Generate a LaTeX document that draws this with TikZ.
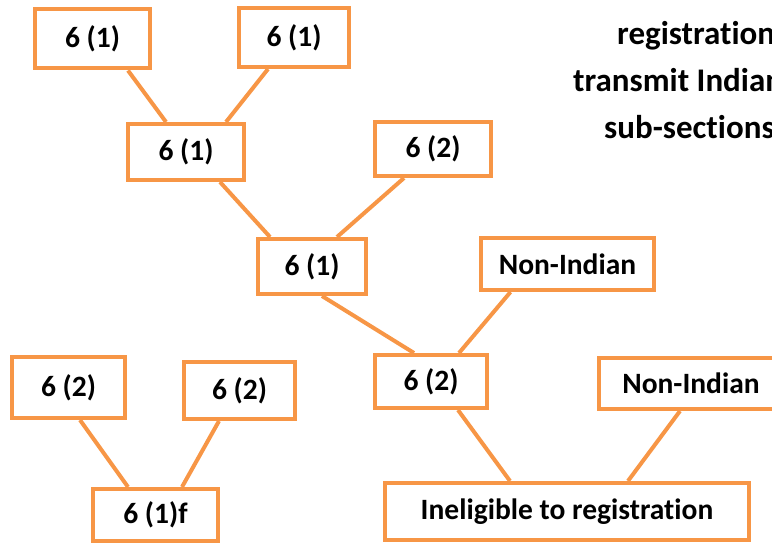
\documentclass[tikz,border=0pt]{standalone}
\usepackage{fontspec}
\setmainfont[Ligatures=NoCommon]{Carlito}
\definecolor{boxorange}{HTML}{F79646}
\begin{document}
\begin{tikzpicture}[x=1pt,y=1pt,
  box/.style={draw=boxorange, line width=4pt, rectangle, inner sep=0pt, fill=white,
    font=\fontsize{29.5}{34}\selectfont\bfseries},
  link/.style={draw=boxorange, line width=4pt},
  side/.style={anchor=mid west, inner sep=0pt, font=\fontsize{33}{38}\selectfont\bfseries}]
\useasboundingbox (0,0) rectangle (772,544);
\clip (0,0) rectangle (772,544);
% boxes (centre x, 544 - centre y)
\node[box, minimum width=115pt, minimum height=59pt] (A) at (92.5,505) {6 (1)};
\node[box, minimum width=110pt, minimum height=59pt] (B) at (294,506.5) {6 (1)};
\node[box, minimum width=116pt, minimum height=56pt] (C) at (186,392) {6 (1)};
\node[box, minimum width=116pt, minimum height=54pt] (D) at (433,395) {6 (2)};
\node[box, minimum width=108pt, minimum height=55pt] (E) at (312,277.5) {6 (1)};
\node[box, minimum width=173pt, minimum height=52pt] (F) at (567.5,280) {Non-Indian};
\node[box, minimum width=112pt, minimum height=53pt] (G) at (431,162.5) {6 (2)};
\node[box, minimum width=184pt, minimum height=51pt] (H) at (691,160.5) {Non-Indian};
\node[box, minimum width=364pt, minimum height=57pt] (I) at (567,32.5) {Ineligible to registration};
\node[box, minimum width=113pt, minimum height=61pt] (J) at (68.5,156.5) {6 (2)};
\node[box, minimum width=111pt, minimum height=57pt] (K) at (239.5,153.5) {6 (2)};
\node[box, minimum width=125pt, minimum height=52pt] (L) at (155.5,29) {6 (1)f};
% connectors
\draw[link] ([xshift=35.5pt]A.south) -- ([xshift=-20pt]C.north);
\draw[link] ([xshift=-26pt]B.south) -- ([xshift=40pt]C.north);
\draw[link] ([xshift=34pt]C.south) -- ([xshift=-42pt]E.north);
\draw[link] ([xshift=-29pt]D.south) -- ([xshift=25pt]E.north);
\draw[link] ([xshift=10pt]E.south) -- ([xshift=-17pt]G.north);
\draw[link] ([xshift=-57pt]F.south) -- ([xshift=28pt]G.north);
\draw[link] ([xshift=27pt]G.south) -- ([xshift=-57pt]I.north);
\draw[link] ([xshift=-11pt]H.south) -- ([xshift=61pt]I.north);
\draw[link] ([xshift=11.5pt]J.south) -- ([xshift=-27.5pt]L.north);
\draw[link] ([xshift=-20.5pt]K.south) -- ([xshift=26.5pt]L.north);
% side text (clipped at the right edge, as in the reference)
\node[side] (t1) at (617,502) {registration};
\node[side] (t2) at (573,455) {transmit Indian};
\node[side] (t3) at (604,408) {sub-sections};
\end{tikzpicture}
\end{document}
